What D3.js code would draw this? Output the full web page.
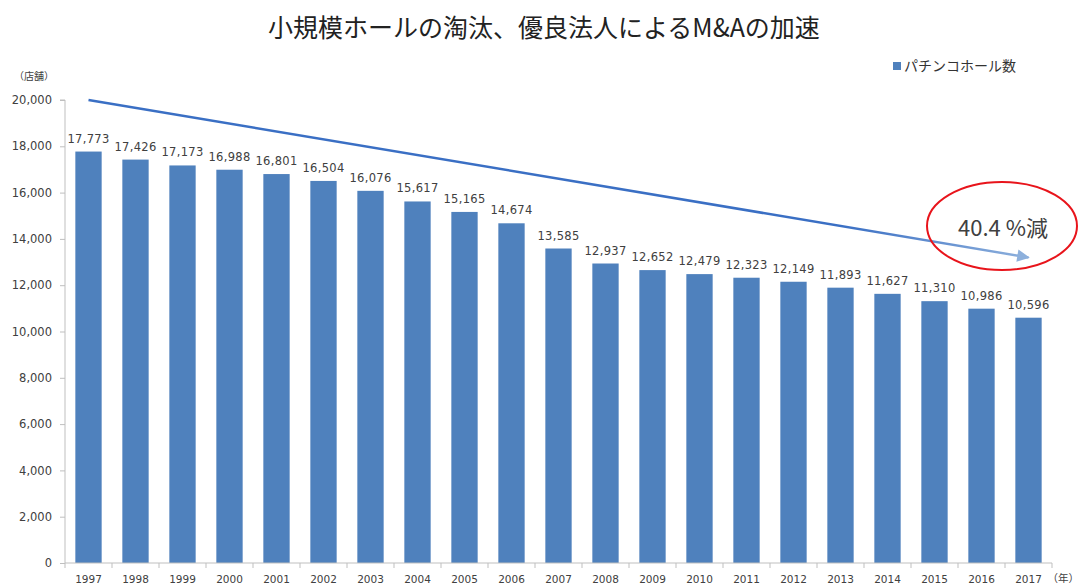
<!DOCTYPE html>
<html>
<head>
<meta charset="utf-8">
<script src="https://cdn.jsdelivr.net/npm/d3@7"></script>
<style>
  body { margin: 0; background: #fff; }
  text { font-family: "DejaVu Sans", sans-serif; fill: #404040; }
  .jp { font-family: "Noto Sans CJK JP", sans-serif; }
</style>
</head>
<body>
<div id="chart"></div>
<script>
// data
const years = ["1997","1998","1999","2000","2001","2002","2003","2004","2005","2006","2007",
  "2008","2009","2010","2011","2012","2013","2014","2015","2016","2017"];
const halls = [17773,17426,17173,16988,16801,16504,16076,15617,15165,14674,13585,
  12937,12652,12479,12323,12149,11893,11627,11310,10986,10596];
const yTicks = [0,2000,4000,6000,8000,10000,12000,14000,16000,18000,20000];
const trendStart = 20000, trendEnd = 13200;

const W = 1079, H = 588;
const margin = {top: 100, right: 27, bottom: 25, left: 65};
const width = W - margin.left - margin.right;
const height = H - margin.top - margin.bottom;

const svg = d3.select("#chart").append("svg")
  .attr("width", W).attr("height", H);

svg.append("text").attr("class", "jp")
  .attr("x", 544).attr("y", 37)
  .attr("text-anchor", "middle")
  .style("font-size", "25px").style("fill", "#222")
  .text("小規模ホールの淘汰、優良法人によるM&Aの加速");

const g = svg.append("g")
  .attr("transform", "translate(" + margin.left + "," + margin.top + ")");

const x = d3.scaleBand().domain(years).range([0, width]).paddingInner(0.44).paddingOuter(0.22);
const y = d3.scaleLinear().domain([0, 20000]).range([height, 0]);

// y axis
const yAxis = d3.axisLeft(y).tickValues(yTicks).tickFormat(d3.format(",")).tickSize(5).tickPadding(8);
const yg = g.append("g").call(yAxis);
yg.select(".domain").attr("stroke", "#bfbfbf").attr("d", "M-5,0H0V" + height);
yg.selectAll(".tick line").attr("stroke", "#bfbfbf");
yg.selectAll("text").style("font-size", "11.5px");

// bars
g.selectAll(".bar").data(halls).enter().append("rect")
  .attr("class", "bar")
  .attr("x", (d, i) => x(years[i]))
  .attr("width", x.bandwidth())
  .attr("y", d => y(d))
  .attr("height", d => height - y(d))
  .attr("fill", "#4F81BD");

g.selectAll(".lbl").data(halls).enter().append("text")
  .attr("class", "lbl")
  .attr("x", (d, i) => x(years[i]) + x.bandwidth() / 2)
  .attr("y", d => y(d) - 9)
  .attr("text-anchor", "middle")
  .style("font-size", "11.5px")
  .style("letter-spacing", "0.3px")
  .text(d3.format(","));

// x axis
const xg = g.append("g").attr("transform", "translate(0," + height + ")");
xg.append("line").attr("x1", 0).attr("x2", width).attr("stroke", "#bfbfbf");
xg.selectAll(".tk").data(d3.range(years.length + 1)).enter().append("line")
  .attr("x1", i => i * width / years.length).attr("x2", i => i * width / years.length)
  .attr("y1", 0).attr("y2", 5).attr("stroke", "#bfbfbf");
xg.selectAll(".yr").data(years).enter().append("text")
  .attr("x", d => x(d) + x.bandwidth() / 2)
  .attr("y", 20)
  .attr("text-anchor", "middle")
  .style("font-size", "10.5px")
  .text(d => d);
xg.append("text").attr("class", "jp")
  .attr("x", W - margin.left).attr("y", 19)
  .attr("text-anchor", "end")
  .style("font-size", "10.5px")
  .text("（年）");

// unit
svg.append("text").attr("class", "jp")
  .attr("x", 14).attr("y", 80)
  .style("font-size", "10px")
  .text("（店舗）");

// legend
svg.append("rect").attr("x", 893).attr("y", 62).attr("width", 8).attr("height", 8).attr("fill", "#4F81BD");
svg.append("text").attr("class", "jp")
  .attr("x", 904).attr("y", 71)
  .style("font-size", "14px").style("fill", "#333")
  .text("パチンコホール数");

// trend arrow
const defs = svg.append("defs");
const grad = defs.append("linearGradient").attr("id", "ag")
  .attr("gradientUnits", "userSpaceOnUse")
  .attr("x1", x(years[0]) + x.bandwidth() / 2).attr("x2", x(years[20]) + x.bandwidth() / 2)
  .attr("y1", 0).attr("y2", 0);
grad.append("stop").attr("offset", "0.8").attr("stop-color", "#3A6FC4");
grad.append("stop").attr("offset", "1").attr("stop-color", "#8DB0DC");
defs.append("marker").attr("id", "ah")
  .attr("viewBox", "0 0 10 10").attr("refX", 9).attr("refY", 5)
  .attr("markerWidth", 7).attr("markerHeight", 5).attr("orient", "auto")
  .attr("markerUnits", "strokeWidth")
  .append("path").attr("d", "M0,0L10,5L0,10z").attr("fill", "#8DB0DC");

g.append("line")
  .attr("x1", x(years[0]) + x.bandwidth() / 2).attr("y1", y(trendStart))
  .attr("x2", x(years[20]) + x.bandwidth() / 2).attr("y2", y(trendEnd))
  .attr("stroke", "url(#ag)").attr("stroke-width", 2.5)
  .attr("marker-end", "url(#ah)");

// callout
svg.append("ellipse")
  .attr("cx", 1002).attr("cy", 226).attr("rx", 75).attr("ry", 44)
  .attr("fill", "none").attr("stroke", "#E8141B").attr("stroke-width", 2);
svg.append("text").attr("class", "jp")
  .attr("x", 1003).attr("y", 236)
  .attr("text-anchor", "middle")
  .style("font-size", "22px").style("fill", "#404040")
  .text("40.4 %減");
</script>
</body>
</html>
